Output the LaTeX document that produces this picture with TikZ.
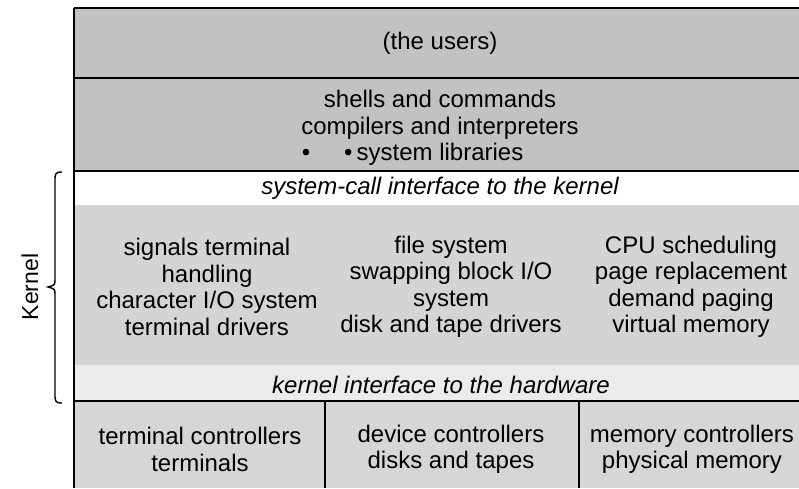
\documentclass[tikz,border=0pt]{standalone}
\usepackage{fontspec}
\setmainfont{Liberation Sans}
\begin{document}
\begin{tikzpicture}[x=1pt,y=-1pt,
  lbl/.style={align=center,inner sep=0pt,font=\fontsize{24}{26.5}\selectfont},
  ilbl/.style={lbl,font=\fontsize{24}{26.5}\selectfont\itshape},
  rule/.style={line width=1.6pt},
  brace/.style={line width=1.4pt}]
\useasboundingbox (0,0) rectangle (799,488);
% shaded bands
\fill[black!24] (74,8) rectangle (799,171);
\fill[black!17] (74,205) rectangle (799,365);
\fill[black!8] (74,365) rectangle (799,401);
\fill[black!16] (74,401) rectangle (799,488);
% frame coordinates
\coordinate (tl) at (74,8);
\coordinate (tr) at (799,8);
\coordinate (bl) at (74,488);
\coordinate (a1) at (74,78);   \coordinate (a2) at (799,78);
\coordinate (b1) at (74,171);  \coordinate (b2) at (799,171);
\coordinate (c1) at (74,401);  \coordinate (c2) at (799,401);
\coordinate (d1) at (325,401); \coordinate (d2) at (325,488);
\coordinate (e1) at (579,401); \coordinate (e2) at (579,488);
\draw[line width=2.2pt] (tl) -- (tr);
\draw[rule] (tl) -- (bl);
\draw[rule] (a1) -- (a2);
\draw[line width=2pt] (b1) -- (b2);
\draw[rule] (c1) -- (c2);
\draw[rule] (d1) -- (d2);
\draw[rule] (e1) -- (e2);
% texts
\node[lbl] (users) at (440,43) {(the users)};
\node[lbl] (shells) at (440,128) {shells and commands\\compilers and interpreters\\\llap{\textbullet\hspace{34pt}\textbullet\hspace{4pt}}system libraries};
\node[ilbl] (syscall) at (440,188) {system-call interface to the kernel};
\node[lbl] (col1) at (207,287) {signals terminal\\handling\\character I/O system\\terminal drivers};
\node[lbl] (col2) at (451,287) {file system\\swapping block I/O\\system\\disk and tape drivers};
\node[lbl] (col3) at (691,287) {CPU scheduling\\page replacement\\demand paging\\virtual memory};
\node[ilbl] (hwif) at (441,385) {kernel interface to the hardware};
\node[lbl] (hw1) at (200,449.5) {terminal controllers\\terminals};
\node[lbl] (hw2) at (451,449.5) {device controllers\\disks and tapes};
\node[lbl] (hw3) at (692,449.5) {memory controllers\\physical memory};
% brace
\coordinate (brtop) at (62,172);
\coordinate (brbot) at (62,403);
\coordinate (brtip) at (48,287);
\draw[brace] (brtop) .. controls (55,172) and (55,174) .. (55,181) -- (55,279)
  .. controls (55,285) .. (brtip) .. controls (55,289) .. (55,295) -- (55,394)
  .. controls (55,401) and (55,403) .. (brbot);
\node[lbl,font=\fontsize{23}{26}\selectfont,rotate=90] (kernel) at (30,287) {Kernel};
\end{tikzpicture}
\end{document}
